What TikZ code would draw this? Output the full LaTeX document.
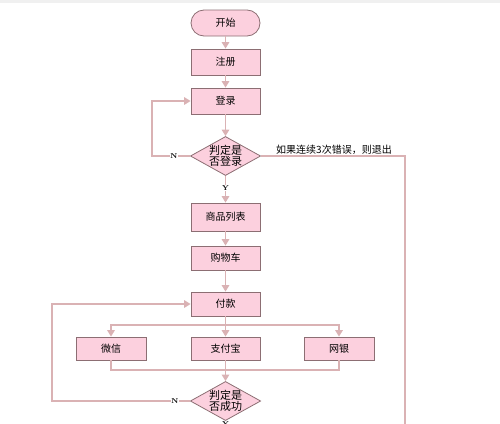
\documentclass[tikz,border=0pt]{standalone}
\usepackage{fontspec}
\newfontfamily\cjk{Noto Sans CJK SC}
\usetikzlibrary{arrows.meta,shapes.geometric}
\definecolor{boxfill}{RGB}{252,208,222}
\definecolor{boxdraw}{RGB}{140,110,115}
\definecolor{linec}{RGB}{218,178,180}
\tikzset{
  procbox/.style={draw=boxdraw,fill=boxfill,line width=0.8pt,minimum width=69pt,inner sep=0pt,font=\cjk\fontsize{10}{11}\selectfont},
  termbox/.style={procbox,rounded corners=13pt,minimum height=26pt},
  decbox/.style={draw=boxdraw,fill=boxfill,line width=0.8pt,diamond,aspect=1.8,minimum width=70pt,minimum height=38pt,inner sep=0pt,font=\cjk\fontsize{11}{10.5}\selectfont,align=center},
  conn/.style={draw=linec,line width=1.6pt},
  arr/.style={conn,-{Triangle[width=7.5pt,length=6.5pt]}},
  yn/.style={font=\fontsize{7}{7}\selectfont\bfseries,fill=white,inner sep=0.5pt},
}
\begin{document}
\begin{tikzpicture}[x=1pt,y=-1pt]
\useasboundingbox (0,0) rectangle (500,423);
\fill[gray!12] (0,0) rectangle (500,3);
\node[termbox] (start) at (225.5,23) {开始};
\node[procbox,minimum height=26pt] (reg) at (225.5,62) {注册};
\node[procbox,minimum height=26pt] (login) at (225.5,101) {登录};
\node[decbox] (d1) at (225.5,156) {判定是\\否登录};
\node[procbox,minimum height=28pt] (list) at (225.5,217) {商品列表};
\node[procbox,minimum height=24pt] (cart) at (225.5,258) {购物车};
\node[procbox,minimum height=24pt] (pay) at (225.5,304) {付款};
\node[procbox,minimum height=23pt,minimum width=70pt] (wx) at (111,348.5) {微信};
\node[procbox,minimum height=23pt] (zfb) at (225.5,348.5) {支付宝};
\node[procbox,minimum height=23pt,minimum width=70pt] (wy) at (339,348.5) {网银};
\node[decbox] (d2) at (225.5,401) {判定是\\否成功};
\coordinate (l1a) at (152,156);
\coordinate (l1b) at (152,101);
\coordinate (r1a) at (405,156);
\coordinate (r1b) at (405,430);
\coordinate (b1) at (225.5,325);
\coordinate (b1l) at (111,325);
\coordinate (b1r) at (339,325);
\coordinate (m1l) at (111,370);
\coordinate (m1r) at (339,370);
\coordinate (l2a) at (52,401);
\coordinate (l2b) at (52,304);
\coordinate (d2b) at (225.5,430);
% connectors
\draw[arr] (start) -- (reg);
\draw[arr] (reg) -- (login);
\draw[arr] (login) -- (d1);
\draw[arr] (d1.west) -- (l1a) -- (l1b) -- (login.west);
\draw[conn] (d1.east) -- (r1a) -- (r1b);
\draw[arr] (d1.south) -- (list.north);
\draw[arr] (list) -- (cart);
\draw[arr] (cart) -- (pay);
\draw[arr] (pay.south) -- (zfb.north);
\draw[arr] (b1) -- (b1l) -- (wx.north);
\draw[arr] (b1) -- (b1r) -- (wy.north);
\draw[conn] (wx.south) -- (m1l) -- (m1r) -- (wy.south);
\draw[arr] (zfb.south) -- (d2.north);
\draw[arr] (d2.west) -- (l2a) -- (l2b) -- (pay.west);
\draw[conn] (d2.south) -- (d2b);
% labels
\node[yn] (n1) at (174,156) {N};
\node[yn] (y1) at (225.5,188) {Y};
\node[yn] (n2) at (175,401) {N};
\node[yn] (y2) at (225.5,424) {Y};
\node[font=\cjk\fontsize{10}{11}\selectfont,anchor=south west,inner sep=0pt] (exitlbl) at (276,155) {如果连续3次错误，则退出};
\end{tikzpicture}
\end{document}
